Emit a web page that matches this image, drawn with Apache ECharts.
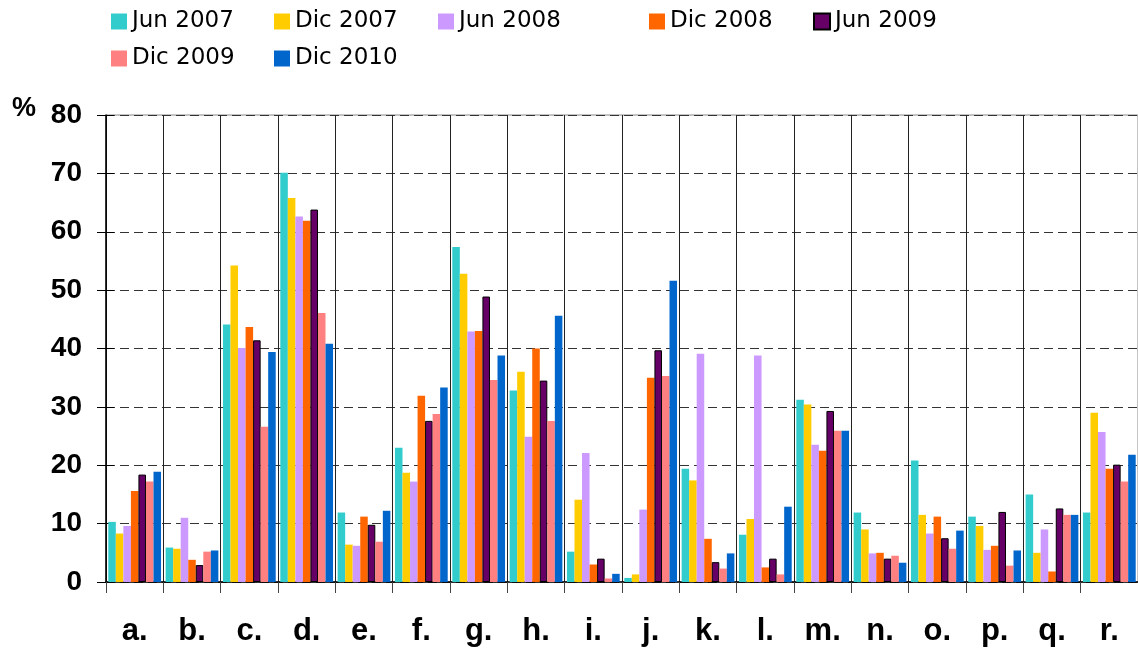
<!DOCTYPE html>
<html>
<head>
<meta charset="utf-8">
<title>Grafico</title>
<script src="https://cdn.jsdelivr.net/npm/echarts@6/dist/echarts.min.js"></script>
<style>
    html, body { margin: 0; padding: 0; background: #fff; }
    #chart { width: 1138px; height: 650px; }
</style>
</head>
<body>
<div id="chart"></div>
<script>
const categories = ['a.', 'b.', 'c.', 'd.', 'e.', 'f.', 'g.', 'h.', 'i.', 'j.', 'k.', 'l.', 'm.', 'n.', 'o.', 'p.', 'q.', 'r.'];
const seriesNames = ['Jun 2007', 'Dic 2007', 'Jun 2008', 'Dic 2008', 'Jun 2009', 'Dic 2009', 'Dic 2010'];
const jun2007 = [10.3, 5.9, 44.1, 70.1, 11.9, 23.0, 57.4, 32.8, 5.2, 0.7, 19.4, 8.1, 31.2, 11.9, 20.8, 11.2, 15.0, 11.9];
const dic2007 = [8.3, 5.7, 54.2, 65.8, 6.4, 18.7, 52.8, 36.0, 14.1, 1.3, 17.4, 10.8, 30.4, 9.0, 11.5, 9.6, 5.0, 29.0];
const jun2008 = [9.6, 11.0, 40.1, 62.6, 6.2, 17.2, 42.9, 24.9, 22.1, 12.4, 39.1, 38.8, 23.5, 4.9, 8.3, 5.5, 9.0, 25.7];
const dic2008 = [15.6, 3.8, 43.7, 61.9, 11.2, 31.9, 43.0, 40.0, 3.0, 35.0, 7.4, 2.5, 22.5, 5.0, 11.2, 6.2, 1.8, 19.4];
const jun2009 = [18.4, 2.9, 41.4, 63.8, 9.8, 27.6, 48.9, 34.5, 4.0, 39.7, 3.4, 4.0, 29.3, 4.0, 7.5, 12.0, 12.6, 20.1];
const dic2009 = [17.2, 5.2, 26.6, 46.1, 6.9, 28.8, 34.6, 27.6, 0.6, 35.3, 2.3, 1.3, 25.9, 4.5, 5.7, 2.8, 11.5, 17.2];
const dic2010 = [18.9, 5.4, 39.4, 40.8, 12.2, 33.3, 38.8, 45.6, 1.4, 51.6, 4.9, 12.9, 25.9, 3.3, 8.8, 5.4, 11.5, 21.8];
const yTicks = [0, 10, 20, 30, 40, 50, 60, 70, 80];

const values = [jun2007, dic2007, jun2008, dic2008, jun2009, dic2009, dic2010];
const colors = ['#33CCCC', '#FFCC00', '#CC99FF', '#FF6600', '#660066', '#FF8080', '#0066CC'];
// legend slots, copied from the excel layout (two rows)
const legendPos = [[111, 10], [274, 10], [438, 10], [649, 10], [813, 10], [111, 47], [274, 47]];

let chart = echarts.init(document.getElementById('chart'));

let legends = seriesNames.map((name, i) => ({
    data: [name],
    left: legendPos[i][0],
    top: legendPos[i][1],
    padding: 0,
    itemWidth: 16,
    itemHeight: 16,
    icon: 'rect',
    selectedMode: false,
    textStyle: { fontFamily: 'DejaVu Sans', fontSize: 23, color: '#000', padding: [0, 0, 0, 0] }
}));

let series = seriesNames.map((name, i) => ({
    name: name,
    type: 'bar',
    data: values[i],
    barGap: '0%',
    barCategoryGap: '8%',
    itemStyle: name === 'Jun 2009'
        ? { color: colors[i], borderColor: '#000', borderWidth: 1 }
        : { color: colors[i] }
}));

let options = {
    animation: false,
    legend: legends,
    grid: { left: 106, top: 115, bottom: 68, width: 1037.7, show: true, borderColor: '#888', borderWidth: 1 },
    xAxis: {
        type: 'category',
        data: categories,
        axisLine: { lineStyle: { color: '#000', width: 1.5 } },
        axisTick: { show: true, length: 11, lineStyle: { color: '#444' } },
        splitLine: { show: true, interval: 0, lineStyle: { color: '#222', width: 1 } },
        axisLabel: { interval: 0, margin: 34, fontFamily: 'Liberation Sans', fontWeight: 'bold', fontSize: 31, color: '#000' }
    },
    yAxis: [
        {
            type: 'value',
            min: yTicks[0],
            max: yTicks[yTicks.length - 1],
            interval: 10,
            axisLine: { show: true, lineStyle: { color: '#000', width: 1.5 } },
            axisTick: { show: true, length: 9, lineStyle: { color: '#000' } },
            splitLine: { show: true, lineStyle: { color: '#333', type: [9, 5], width: 1 } },
            axisLabel: { margin: 24, fontFamily: 'Liberation Sans', fontWeight: 'bold', fontSize: 28, color: '#000' }
        },
        {
            // second copy only for the inner half of the crossing ticks
            type: 'value',
            position: 'left',
            min: yTicks[0],
            max: yTicks[yTicks.length - 1],
            interval: 10,
            axisLine: { show: false },
            axisTick: { show: true, inside: true, length: 8, lineStyle: { color: '#000' } },
            splitLine: { show: false },
            axisLabel: { show: false }
        }
    ],
    graphic: [{
        type: 'text',
        left: 12,
        top: 95,
        style: { text: '%', fontFamily: 'Liberation Sans', fontWeight: 'bold', fontSize: 27, fill: '#000' }
    }],
    series: series
};

chart.setOption(options);
</script>
</body>
</html>
